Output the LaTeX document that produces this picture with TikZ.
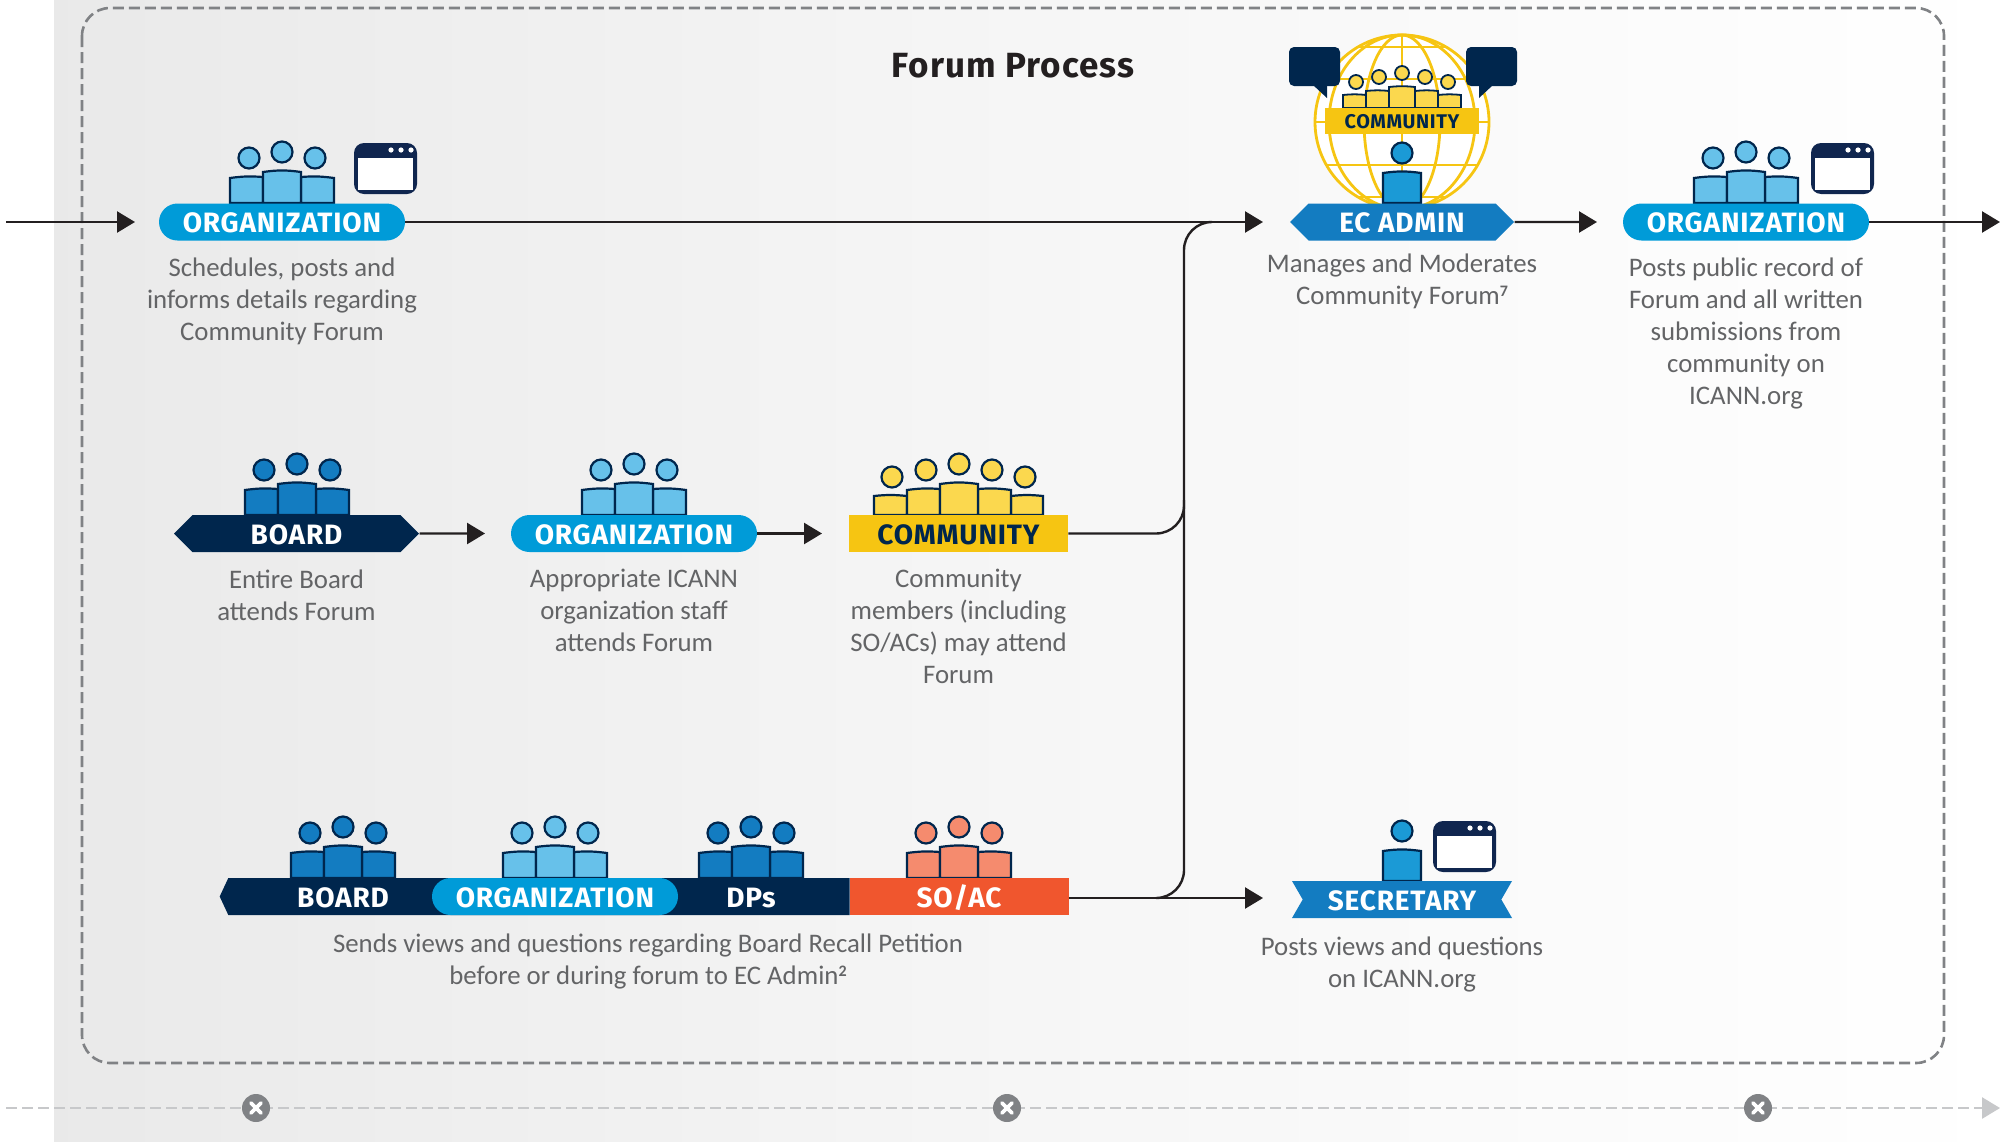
\documentclass[tikz,border=0pt]{standalone}
\usepackage{fontspec}
\usepackage{xcolor}
\usepackage{tikz}
\usetikzlibrary{arrows.meta, positioning, shapes, shapes.misc, shapes.symbols}
\setmainfont{Carlito}
\newfontfamily\labelfont[LetterSpace=3]{Fira Sans}

\definecolor{navy}{HTML}{00264D}
\definecolor{winblue}{HTML}{10264F}
\definecolor{midblue}{HTML}{137CC1}
\definecolor{skyblue}{HTML}{009BD8}
\definecolor{paleblue}{HTML}{67C1EA}
\definecolor{personblue}{HTML}{1B9AD6}
\definecolor{gold}{HTML}{F6C512}
\definecolor{palegold}{HTML}{FBD84E}
\definecolor{redorange}{HTML}{F0562E}
\definecolor{salmon}{HTML}{F58B6E}
\definecolor{framegray}{HTML}{808285}
\definecolor{linegray}{HTML}{C7C8CA}
\definecolor{ink}{HTML}{231F20}
\definecolor{bodytext}{HTML}{636466}

\tikzset{
  role/.style={text=white, font=\labelfont\fontsize{14}{14}\selectfont\bfseries, minimum height=18.5pt, inner sep=0pt, text height=10.6pt, text depth=0pt},
  orgpill/.style={role, fill=skyblue, rectangle, rounded corners=9.25pt, minimum width=123pt},
  hexband/.style={role, signal, signal to=west and east, signal pointer angle=90},
  goldband/.style={role, fill=gold, text=navy, rectangle, minimum width=109.5pt},
  flow/.style={-{Triangle[length=9pt,width=10.5pt]}, draw=ink, line width=1.2pt},
  joinline/.style={draw=ink, line width=1.2pt},
  desc/.style={align=center, text=bodytext, font=\fontsize{13.4}{16}\selectfont, inner sep=0pt},
  person/.style={draw=navy, line width=1.1pt},
  stopmark/.style={circle, fill=framegray, minimum size=14pt, inner sep=0pt},
  stopcross/.style={draw=white, line width=1.9pt, line cap=round}
}

% small bold note number
\newcommand{\noteref}[1]{\raisebox{4pt}{\fontsize{8}{8}\selectfont\bfseries #1}}
% heads and bodies, #1 centre, #2 base line, #3 fill
\newcommand{\threepeople}[3]{
  \draw[person, fill=#3] (#1-52,#2) -- (#1-52,#2-25) to[bend left=6] (#1-19,#2-26) -- (#1-19,#2) -- cycle;
  \draw[person, fill=#3] (#1+52,#2) -- (#1+52,#2-25) to[bend right=6] (#1+19,#2-26) -- (#1+19,#2) -- cycle;
  \draw[person, fill=#3] (#1-19,#2) -- (#1-19,#2-31) to[bend left=8] (#1+19,#2-31) -- (#1+19,#2) -- cycle;
  \draw[person, fill=#3] (#1-33,#2-45) circle (10.5);
  \draw[person, fill=#3] (#1,#2-51) circle (10.5);
  \draw[person, fill=#3] (#1+33,#2-45) circle (10.5);
}
% browser window, #1 left, #2 top
\newcommand{\webwindow}[2]{
  \fill[winblue, rounded corners=5] (#1,#2) rectangle ++(63,51);
  \fill[white] (#1+4,#2+15) rectangle ++(55,32);
  \foreach \dotx in {37,47,57} \fill[white] (#1+\dotx,#2+7) circle (2.6);
}
% one person, #1 centre, #2 base line
\newcommand{\oneperson}[2]{
  \draw[person, fill=personblue] (#1-19,#2) -- (#1-19,#2-30) to[bend left=8] (#1+19,#2-30) -- (#1+19,#2) -- cycle;
  \draw[person, fill=personblue] (#1,#2-50) circle (10.5);
}

\begin{document}
\begin{tikzpicture}[x=0.5pt, y=-0.5pt]
\useasboundingbox (0,0) rectangle (2011,1141);

% Background
\shade[left color=black!8.5!white, right color=white, middle color=black!3.5!white] (54,0) rectangle (2011,1141);
\draw[framegray, line width=1.3pt, dash pattern=on 5.5pt off 2.5pt, rounded corners=14pt] (82,8) rectangle (1944,1063);
\node[font=\labelfont\fontsize{17.5}{17.5}\selectfont\bfseries, text=ink] (title) at (1013,66) {Forum Process};

% Timeline
\coordinate (linestart) at (6,1108);
\coordinate (lineend) at (2000,1108);
\draw[draw=linegray, line width=1.3pt, dash pattern=on 5.5pt off 2.5pt, -{Triangle[length=9pt,width=10.5pt]}] (linestart) -- (lineend);
\foreach \markx/\markname in {256/stopa, 1007/stopb, 1758/stopc} {
  \node[stopmark] (\markname) at (\markx,1108) {};
  \draw[stopcross] (\markx-5,1103) -- (\markx+5,1113);
  \draw[stopcross] (\markx-5,1113) -- (\markx+5,1103);
}

% Top row
\threepeople{282}{203}{paleblue}
\webwindow{354}{143}
\node[orgpill] (orgtop) at (282,222) {ORGANIZATION};
\node[desc, anchor=north] (orgtoptext) at (282,257) {Schedules, posts and\\informs details regarding\\Community Forum};

% Globe
\fill[white] (1402,122) circle (87);
\begin{scope}[gold, line width=1.4pt]
  \draw (1402,122) circle (87);
  \draw (1402,122) ellipse (38 and 87);
  \draw (1402,122) ellipse (73 and 87);
  \draw (1402,35) -- (1402,209);
  \draw (1358,47) -- (1446,47);
  \draw (1326,79) -- (1478,79);
  \draw (1315,122) -- (1489,122);
  \draw (1326,165) -- (1478,165);
  \draw (1358,197) -- (1446,197);
\end{scope}
\draw[person, line width=0.9pt, fill=palegold] (1343,108) -- (1343,95) to[bend left=6] (1366,95) -- (1366,108) -- cycle;
\draw[person, line width=0.9pt, fill=palegold] (1366,108) -- (1366,91) to[bend left=6] (1389,91) -- (1389,108) -- cycle;
\draw[person, line width=0.9pt, fill=palegold] (1415,108) -- (1415,91) to[bend left=6] (1438,91) -- (1438,108) -- cycle;
\draw[person, line width=0.9pt, fill=palegold] (1438,108) -- (1438,95) to[bend left=6] (1461,95) -- (1461,108) -- cycle;
\draw[person, line width=0.9pt, fill=palegold] (1389,108) -- (1389,87) to[bend left=6] (1415,87) -- (1415,108) -- cycle;
\foreach \headx/\heady in {1356/82, 1379/77, 1402/73, 1425/77, 1448/82}
  \draw[person, line width=0.9pt, fill=palegold] (\headx,\heady) circle (7);
\node[goldband, minimum width=77pt, minimum height=13pt, text height=7.6pt, font=\labelfont\fontsize{9.9}{10}\selectfont\bfseries] (commglobe) at (1402,121) {COMMUNITY};
\fill[navy, rounded corners=2.5] (1289,47) rectangle (1340,86);
\fill[navy] (1313,85) -- (1327,98) -- (1327,85) -- cycle;
\fill[navy, rounded corners=2.5] (1466,47) rectangle (1517,86);
\fill[navy] (1493,85) -- (1479,98) -- (1479,85) -- cycle;
\oneperson{1402}{203}

% EC admin
\node[hexband, fill=midblue, minimum width=112pt] (ecadmin) at (1402,222) {EC ADMIN};
\node[desc, anchor=north] (ecadmintext) at (1402,253) {Manages and Moderates\\Community Forum\noteref{7}};

% Organization on the right
\threepeople{1746}{203}{paleblue}
\webwindow{1811}{143}
\node[orgpill] (orgright) at (1746,222) {ORGANIZATION};
\node[desc, anchor=north] (orgrighttext) at (1746,257) {Posts public record of\\Forum and all written\\submissions from\\community on\\ICANN.org};

% Middle row
\threepeople{297}{515}{midblue}
\node[hexband, fill=navy, minimum width=122.5pt] (boardmid) at (296.5,533.5) {BOARD};
\node[desc, anchor=north] (boardmidtext) at (296.5,569) {Entire Board\\attends Forum};

\threepeople{634}{515}{paleblue}
\node[orgpill] (orgmid) at (634,533.5) {ORGANIZATION};
\node[desc, anchor=north] (orgmidtext) at (634,569) {Appropriate ICANN\\organization staff\\attends Forum};

\draw[person, fill=palegold] (874,515) -- (874,496) to[bend left=6] (907,496) -- (907,515) -- cycle;
\draw[person, fill=palegold] (1043,515) -- (1043,496) to[bend right=6] (1011,496) -- (1011,515) -- cycle;
\threepeople{959}{515}{palegold}
\draw[person, fill=palegold] (892,477) circle (10.5);
\draw[person, fill=palegold] (1025,477) circle (10.5);
\node[goldband] (commmid) at (958.5,533.5) {COMMUNITY};
\node[desc, anchor=north] (commmidtext) at (958.5,569) {Community\\members (including\\SO/ACs) may attend\\Forum};

% Bottom row
\threepeople{343}{878}{midblue}
\threepeople{555}{878}{paleblue}
\threepeople{751}{878}{midblue}
\threepeople{959}{878}{salmon}
\node[role, signal, signal to=west, signal pointer angle=130, fill=navy, minimum width=315pt] (strip) at (539,896.5) {};
\node[role, fill=redorange, minimum width=109.5pt] (soac) at (959,896.5) {SO/AC};
\node[role, text=white] (boardlow) at (343,896.5) {BOARD};
\node[orgpill] (orglow) at (555,896.5) {ORGANIZATION};
\node[role] (dps) at (751,896.5) {DPs};
\node[desc, anchor=north] (lowtext) at (648,933) {Sends views and questions regarding Board Recall Petition\\before or during forum to EC Admin\noteref{2}};

% Secretary
\oneperson{1402}{881}
\webwindow{1433}{821}
\node[role, signal, signal to=nowhere, signal from=west and east, signal pointer angle=120, fill=midblue, minimum width=110pt] (secretary) at (1402,899.5) {SECRETARY};
\node[desc, anchor=north] (secretarytext) at (1402,936) {Posts views and questions\\on ICANN.org};

% Connectors
\coordinate (arrowin) at (6,222);
\coordinate (ectip) at (1263,222);
\coordinate (sectip) at (1263,898);
\coordinate (rightout) at (2000,222);
\coordinate (righttip) at (1597,222);
\coordinate (topjoin) at (1210,222);
\coordinate (lowjoin) at (1157,898);
\coordinate (midjoin) at (1184,533.5);
\draw[flow] (arrowin) -- (135,222);
\draw[flow] (orgtop) -- (ectip);
\draw[flow] (ecadmin) -- (righttip);
\draw[flow] (orgright) -- (rightout);
\draw[flow] (boardmid) -- (485,533.5);
\draw[flow] (orgmid) -- (822,533.5);
\draw[flow] (soac.east |- sectip) -- (sectip);
\draw[joinline, rounded corners=14pt] (topjoin) -| (1184,898) -- (lowjoin);
\draw[joinline, rounded corners=14pt] (commmid) -- (midjoin) -- (1184,500);
\end{tikzpicture}
\end{document}
